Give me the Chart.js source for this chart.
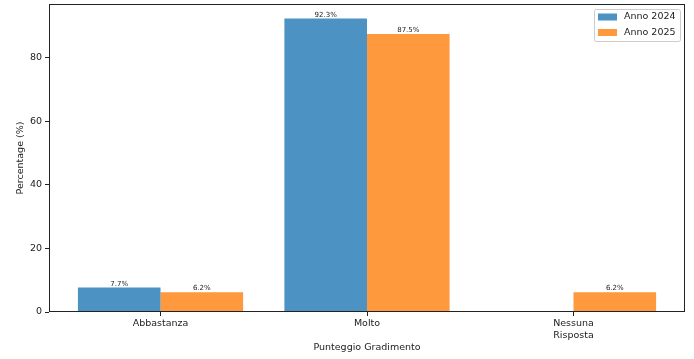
<!DOCTYPE html>
<html>
<head>
<meta charset="utf-8">
<script src="https://cdn.jsdelivr.net/npm/chart.js@4"></script>
<style>
  body { margin: 0; background: #fff; }
  canvas { display: block; }
</style>
</head>
<body>
<canvas id="myChart" width="694" height="359"></canvas>
<script>
const categories = ['Abbastanza', 'Molto', 'Nessuna Risposta'];
const anno2024 = [7.7, 92.3, null];
const anno2025 = [6.2, 87.5, 6.2];
const yTicks = [0, 20, 40, 60, 80];

const FONT = 'DejaVu Sans';
const blue = 'rgba(31,119,180,0.8)';
const orange = 'rgba(255,127,14,0.8)';

// frame, value labels and legend drawn like matplotlib
const extras = {
    id: 'extras',
    afterDatasetsDraw(chart) {
        const c = chart.ctx;
        c.save();
        c.font = '7px "' + FONT + '"';
        c.fillStyle = '#222';
        c.textAlign = 'center';
        c.textBaseline = 'alphabetic';
        chart.data.datasets.forEach((ds, di) => {
            chart.getDatasetMeta(di).data.forEach((el, i) => {
                const v = ds.data[i].y;
                if (v == null) return;
                c.fillText(v.toFixed(1) + '%', el.x, el.y - 2);
            });
        });
        c.restore();
    },
    afterDraw(chart) {
        const c = chart.ctx;
        const a = chart.chartArea;
        c.save();
        c.strokeStyle = '#222';
        c.lineWidth = 1;
        c.strokeRect(Math.round(a.left) + 0.5, Math.round(a.top) + 0.5,
            Math.round(a.right - a.left) - 1, Math.round(a.bottom - a.top) - 1);

        // legend
        const lx = a.right - 91, ly = a.top + 5, lw = 86, lh = 32;
        c.fillStyle = 'rgba(255,255,255,0.8)';
        c.strokeStyle = '#ccc';
        c.beginPath();
        c.roundRect(lx + 0.5, ly + 0.5, lw, lh, 2);
        c.fill();
        c.stroke();
        c.font = '9.5px "' + FONT + '"';
        c.textAlign = 'left';
        c.textBaseline = 'middle';
        chart.data.datasets.forEach((ds, i) => {
            const cy = ly + 8 + i * 15.5;
            c.fillStyle = ds.backgroundColor;
            c.fillRect(lx + 4, cy - 3.5, 19, 7);
            c.fillStyle = '#222';
            c.fillText(ds.label, lx + 30, cy);
        });
        c.restore();
    }
};

new Chart(document.getElementById('myChart'), {
    type: 'bar',
    data: {
        datasets: [
            {
                label: 'Anno 2024',
                data: anno2024.map((v, i) => ({x: i, y: v})),
                backgroundColor: blue,
                borderWidth: 0
            },
            {
                label: 'Anno 2025',
                data: anno2025.map((v, i) => ({x: i, y: v})),
                backgroundColor: orange,
                borderWidth: 0
            }
        ]
    },
    options: {
        responsive: false,
        animation: false,
        layout: { padding: { top: 4, right: 9, left: 0, bottom: 0 } },
        categoryPercentage: 0.8,
        barPercentage: 1.0,
        plugins: {
            legend: { display: false },
            tooltip: { enabled: false }
        },
        scales: {
            x: {
                type: 'linear',
                offset: false,
                min: -0.54,
                max: 2.54,
                afterBuildTicks: scale => {
                    scale.ticks = categories.map((_, i) => ({value: i}));
                },
                afterFit: scale => {
                    scale.height = 47;
                    scale.paddingLeft = 0;
                    scale.paddingRight = 0;
                },
                grid: {
                    offset: false,
                    drawOnChartArea: false,
                    drawTicks: true,
                    tickLength: 4,
                    tickColor: '#222'
                },
                border: { display: false },
                ticks: {
                    autoSkip: false,
                    maxRotation: 0,
                    padding: 2,
                    color: '#222',
                    font: { family: FONT, size: 9.5, lineHeight: 1.25 },
                    callback: v => categories[v].split(' ')
                },
                title: {
                    display: true,
                    text: 'Punteggio Gradimento',
                    color: '#222',
                    font: { family: FONT, size: 9.5 },
                    padding: { top: 0, bottom: 6 }
                }
            },
            y: {
                min: 0,
                max: 96.9,
                afterBuildTicks: scale => {
                    scale.ticks = yTicks.map(v => ({value: v}));
                },
                afterFit: scale => {
                    scale.width = 49;
                    scale.paddingTop = 0;
                    scale.paddingBottom = 0;
                },
                grid: {
                    drawOnChartArea: false,
                    drawTicks: true,
                    tickLength: 4,
                    tickColor: '#222'
                },
                border: { display: false },
                ticks: {
                    padding: 3,
                    color: '#222',
                    font: { family: FONT, size: 9.5 }
                },
                title: {
                    display: true,
                    text: 'Percentage (%)',
                    color: '#222',
                    font: { family: FONT, size: 9.5 },
                    padding: { top: 15, bottom: 0 }
                }
            }
        }
    },
    plugins: [extras]
});
</script>
</body>
</html>
